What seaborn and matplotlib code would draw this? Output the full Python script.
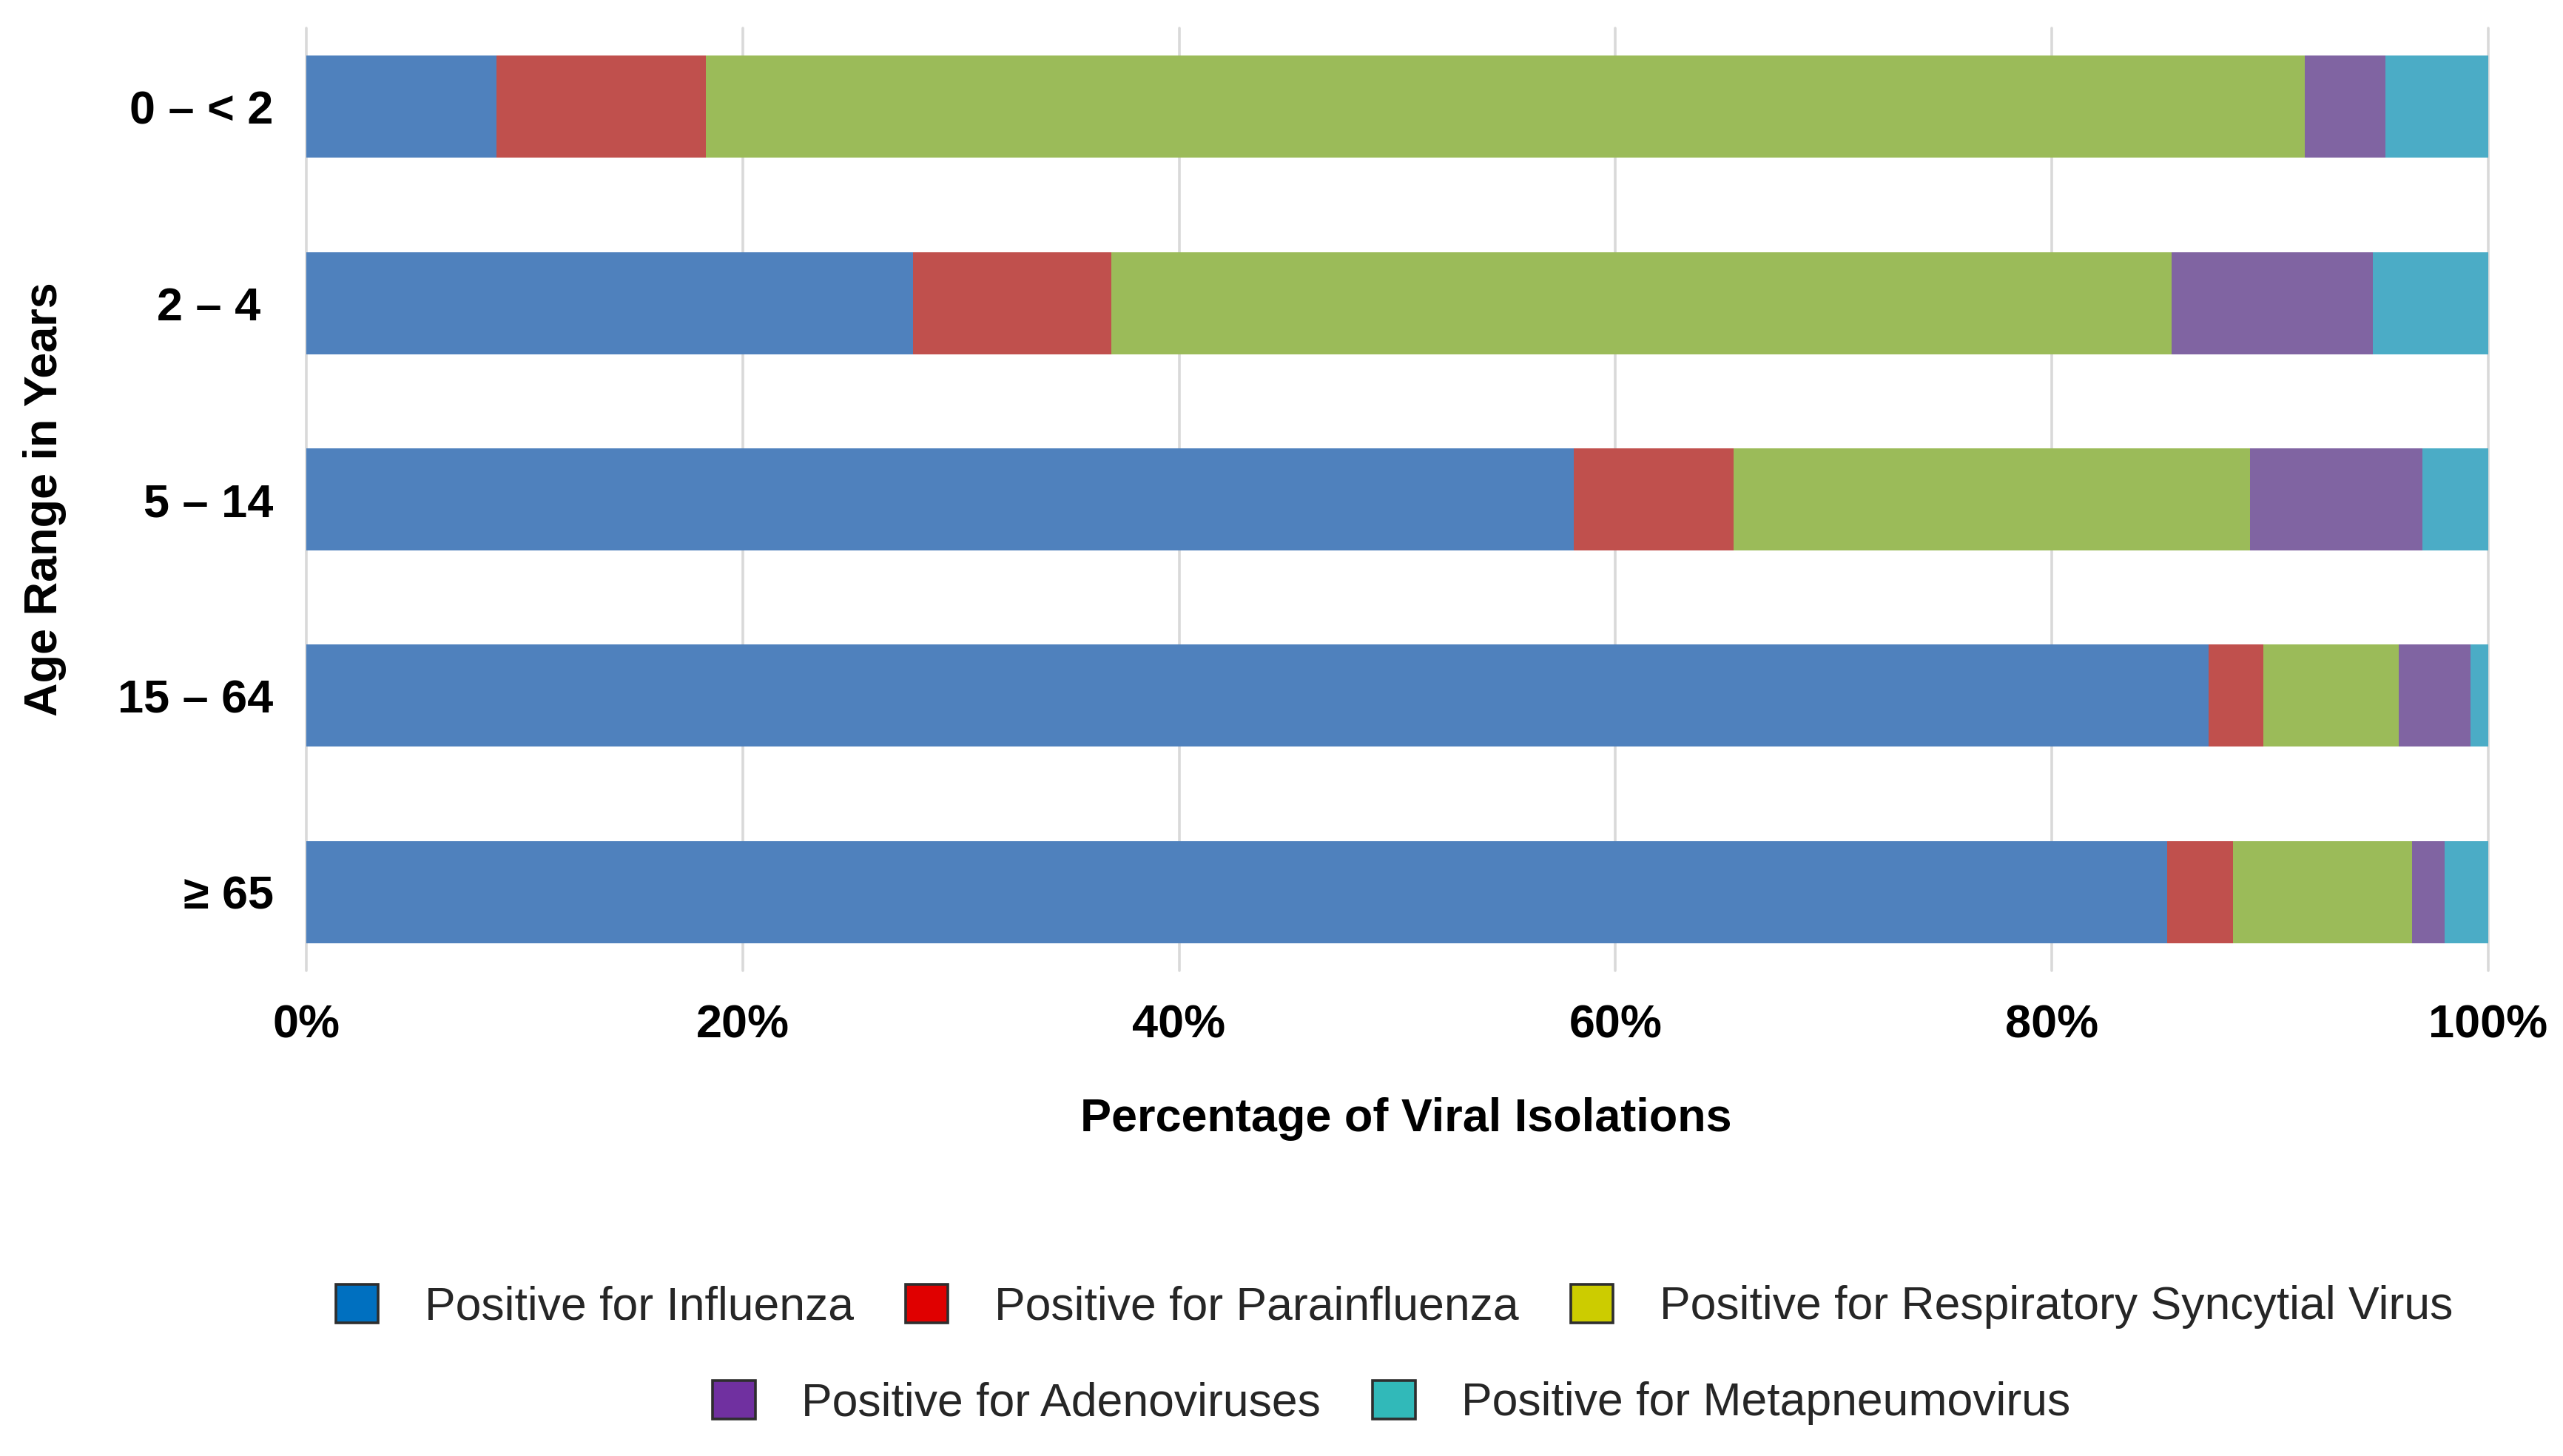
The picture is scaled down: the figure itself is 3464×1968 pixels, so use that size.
import matplotlib
matplotlib.use("Agg")
import matplotlib.pyplot as plt
from matplotlib.patches import Patch
import seaborn as sns
import pandas as pd
import numpy as np

# ---- data (percent of viral isolations per age group) ----
age_groups = ["0 – < 2", "2 – 4 ", "5 – 14", "15 – 64", "≥ 65"]
series_names = [
    "Positive for Influenza",
    "Positive for Parainfluenza",
    "Positive for Respiratory Syncytial Virus",
    "Positive for Adenoviruses",
    "Positive for Metapneumovirus",
]
influenza      = [8.7, 27.8, 58.1, 87.2, 85.3]
parainfluenza  = [9.6,  9.1,  7.3,  2.5,  3.0]
rsv            = [73.3, 48.6, 23.7, 6.2,  8.2]
adenoviruses   = [3.7,  9.2,  7.9,  3.3,  1.5]
metapneumo     = [4.7,  5.3,  3.0,  0.8,  2.0]
x_ticks = [0, 20, 40, 60, 80, 100]
x_tick_labels = ["0%", "20%", "40%", "60%", "80%", "100%"]

bar_colors = ["#4F81BD", "#C0504D", "#9BBB59", "#8064A2", "#4BACC6"]
legend_colors = ["#0070C0", "#E00000", "#CCCC00", "#7030A0", "#31B9B9"]

sns.set_theme(style="white")
plt.rcParams["font.family"] = ["Liberation Sans", "DejaVu Sans"]

FS = 22.7
LFS = 22.5
series = [influenza, parainfluenza, rsv, adenoviruses, metapneumo]
cum = np.cumsum(np.array(series), axis=0)

fig = plt.figure(figsize=(17.32, 9.84), dpi=200)
ax = fig.add_axes([0.1195, 0.3333, 0.8513, 0.6474])

# draw cumulative bars from the full stack down to the first series
for i in range(len(series) - 1, -1, -1):
    df = pd.DataFrame({"age": age_groups, "value": cum[i]})
    sns.barplot(data=df, x="value", y="age", order=age_groups, orient="h",
                color=bar_colors[i], saturation=1, width=0.52,
                errorbar=None, linewidth=0, ax=ax)

ax.set_xlim(0, 100)
ax.set_ylim(4.4, -0.4)
ax.set_xticks(x_ticks)
ax.set_xticklabels(x_tick_labels)
ax.tick_params(axis="both", length=0, labelsize=FS)
ax.tick_params(axis="x", pad=16)
ax.tick_params(axis="y", pad=16)
for lab in ax.get_xticklabels() + ax.get_yticklabels():
    lab.set_fontweight("bold")
    lab.set_color("black")

ax.set_axisbelow(True)
ax.grid(axis="x", color="#D9D9D9", linewidth=1.3)
ax.grid(axis="y", visible=False)
for line in ax.get_xgridlines():
    line.set_clip_on(False)
for s in ax.spines.values():
    s.set_visible(False)

ax.set_xlabel("Percentage of Viral Isolations", fontsize=FS, fontweight="bold", color="black")
ax.set_ylabel("Age Range in Years", fontsize=FS, fontweight="bold", color="black")
ax.xaxis.set_label_coords(0.504, -0.134)
ax.yaxis.set_label_coords(-0.110, 0.5)

handles = [Patch(facecolor=c, edgecolor="#2E2E2E", linewidth=1.3) for c in legend_colors]
leg_kw = dict(loc="center", frameon=False, fontsize=LFS, handlelength=0.92,
              handleheight=0.92, handletextpad=1.0, columnspacing=1.12,
              borderpad=0, borderaxespad=0)
fig.legend(handles[:3], series_names[:3], ncol=3,
           bbox_to_anchor=(0.544, 1 - 1766 / 1968), **leg_kw)
fig.legend(handles[3:], series_names[3:], ncol=2,
           bbox_to_anchor=(0.543, 1 - 1896 / 1968), **leg_kw)

fig.savefig("out.png", dpi=200, facecolor="white")
